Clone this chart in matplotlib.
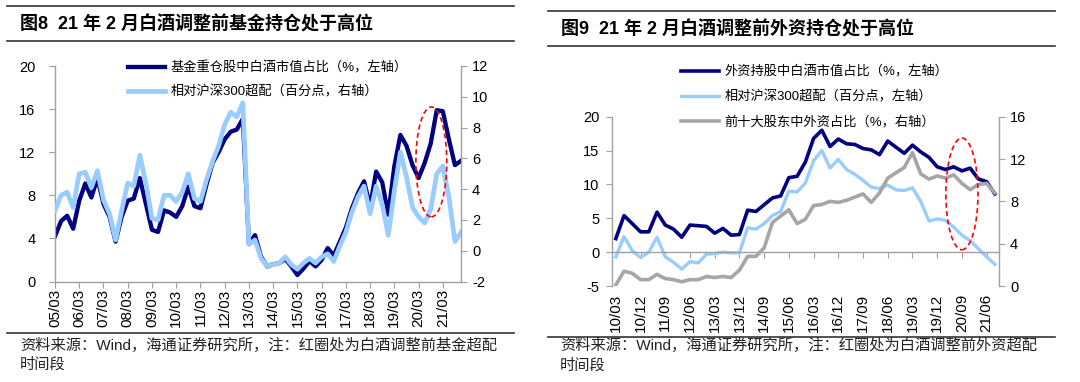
import matplotlib
matplotlib.use("Agg")
import matplotlib.pyplot as plt
from matplotlib.patches import Ellipse
from matplotlib.lines import Line2D

plt.rcParams['font.family'] = ['Liberation Sans', 'Noto Sans CJK SC']
plt.rcParams['axes.unicode_minus'] = False

# ---- 图8 数据（季度，05/03 - 21/12）----
quarters_8 = [f"{y:02d}/{m:02d}" for y in range(5, 22) for m in (3, 6, 9, 12)]
fund_liquor = [4.2, 5.6, 6.1, 4.9, 7.5, 9.1, 7.8, 9.6,
               7.2, 6.0, 3.7, 6.0, 7.5, 7.7, 9.6, 7.2,
               4.8, 4.6, 6.6, 6.4, 6.0, 7.0, 8.8, 7.0,
               6.8, 9.0, 11.0, 12.0, 13.2, 13.9, 14.1, 15.1,
               3.5, 4.3, 2.3, 1.4, 1.6, 1.7, 2.1, 1.4,
               0.6, 1.2, 1.9, 1.4, 2.0, 3.1, 2.4, 3.7,
               5.0, 6.8, 8.2, 9.3, 7.0, 10.2, 9.2, 6.2,
               10.7, 13.6, 12.6, 10.8, 9.6, 11.0, 12.8, 15.9,
               15.8, 13.2, 10.8, 11.2]
fund_overweight = [2.6, 3.6, 3.8, 2.8, 5.0, 5.1, 4.1, 5.2,
                   3.3, 2.4, 0.7, 2.6, 4.4, 4.2, 6.2, 4.4,
                   2.1, 2.0, 3.6, 3.6, 3.2, 3.8, 5.0, 3.4,
                   3.2, 4.6, 5.8, 6.8, 8.2, 9.0, 8.7, 9.6,
                   0.4, 0.7, -0.5, -1.0, -0.9, -0.8, -0.4, -0.9,
                   -1.2, -0.8, -0.5, -0.8, -0.4, -0.2, -0.7, 0.3,
                   1.2, 2.5, 3.5, 4.2, 2.4, 4.2, 3.0, 1.0,
                   3.9, 6.4, 4.8, 2.8, 2.2, 1.8, 2.7, 5.0,
                   5.5, 3.5, 0.6, 1.2]

# ---- 图9 数据（季度，10/03 - 21/09）----
quarters_9 = [f"{y:02d}/{m:02d}" for y in range(10, 22) for m in (3, 6, 9, 12)][:47]
foreign_liquor = [2.0, 5.4, 4.2, 3.0, 3.0, 5.9, 4.0, 3.4,
                  2.2, 4.0, 3.9, 3.8, 2.8, 3.5, 2.5, 2.6,
                  6.2, 6.0, 7.0, 8.0, 8.3, 11.0, 11.2, 13.3,
                  16.8, 18.0, 15.6, 16.7, 16.0, 15.9, 15.3, 15.1,
                  14.4, 16.4, 15.5, 14.6, 15.8, 14.8, 14.0, 12.6,
                  12.2, 12.6, 12.0, 12.4, 10.8, 10.4, 8.6]
foreign_overweight = [-0.7, 2.3, 0.2, -0.8, 0.0, 2.2, -0.7, -1.5,
                      -2.5, -1.4, -1.6, -0.3, -0.2, 0.0, -0.1, -0.1,
                      3.6, 3.4, 4.2, 5.4, 6.0, 9.0, 8.9, 10.2,
                      13.5, 15.0, 12.4, 13.7, 12.2, 11.5, 10.6, 9.6,
                      9.4, 9.9, 9.2, 9.1, 9.5, 7.5, 4.6, 4.9,
                      4.7, 3.7, 2.5, 1.7, 0.5, -0.7, -1.8]
top10_foreign = [0.1, 1.4, 1.2, 0.6, 0.6, 1.1, 0.7, 0.6,
                 0.4, 0.6, 0.6, 0.9, 0.8, 0.9, 0.8, 1.5,
                 2.8, 2.8, 3.6, 6.0, 6.6, 7.2, 5.9, 6.3,
                 7.6, 7.7, 8.0, 7.9, 8.1, 8.4, 8.7, 7.9,
                 8.8, 10.2, 10.7, 11.2, 12.6, 10.6, 10.1, 10.4,
                 10.2, 10.5, 9.7, 9.1, 9.6, 9.7, 8.8]

NAVY = "#000080"
LIGHT = "#99CCFF"
GRAY = "#A6A6A6"
AXC = "#A0A0A0"
W, H = 1080, 382


def fx(px):
    return px / W


def fy(py):
    return 1 - py / H


def style_axes(ax, axr):
    for s in ("top", "right"):
        ax.spines[s].set_visible(False)
    for s in ("top", "left", "bottom"):
        axr.spines[s].set_visible(False)
    for sp in (ax.spines["left"], ax.spines["bottom"], axr.spines["right"]):
        sp.set_color(AXC)
        sp.set_linewidth(1.0)
    ax.tick_params(axis="both", direction="out", length=4, color=AXC, labelsize=10.5)
    ax.tick_params(axis="x", labelsize=11)
    axr.tick_params(axis="y", direction="out", length=4, color=AXC, labelsize=10.5, pad=4)
    ax.tick_params(axis="y", pad=10)


fig = plt.figure(figsize=(10.8, 3.82), dpi=100)

# ================= 图8 =================
ax1 = fig.add_axes([fx(55), fy(281.5), fx(406), 215.5 / H])
ax1r = ax1.twinx()
x8 = list(range(len(quarters_8)))
l1, = ax1.plot(x8, fund_liquor, color=NAVY, lw=3.1, solid_joinstyle="round")
l2, = ax1r.plot(x8, fund_overweight, color=LIGHT, lw=3.4, solid_joinstyle="round")
ax1.set_xlim(0, len(x8) - 1)
ax1.set_ylim(0, 20)
ax1.set_yticks(range(0, 21, 4))
ax1r.set_ylim(-2, 12)
ax1r.set_yticks(range(-2, 13, 2))
ax1.set_xticks(x8[::4])
ax1.set_xticklabels(quarters_8[::4])
style_axes(ax1, ax1r)
ax1.tick_params(axis="x", pad=1, labelrotation=90)
ax1r.add_patch(Ellipse((62.1, 11.1), 5.1, 10.2, transform=ax1.transData, fill=False,
                       edgecolor="red", lw=1.2, linestyle=(0, (3, 2)), zorder=5))
ax1r.legend([l1, l2], ["基金重仓股中白酒市值占比（%，左轴）", "相对沪深300超配（百分点，右轴）"],
            loc="upper left", bbox_to_anchor=(fx(128), fy(61.5)), bbox_transform=fig.transFigure,
            frameon=False, fontsize=9.5, handlelength=2.8, handletextpad=0.4,
            labelspacing=0.8, borderpad=0, borderaxespad=0)

# ================= 图9 =================
ax2 = fig.add_axes([fx(611.7), fy(286), fx(387.3), 169.3 / H])
ax2r = ax2.twinx()
x9 = list(range(len(quarters_9)))
m1, = ax2.plot(x9, foreign_liquor, color=NAVY, lw=2.6, solid_joinstyle="round")
m2, = ax2.plot(x9, foreign_overweight, color=LIGHT, lw=2.4, solid_joinstyle="round")
m3, = ax2r.plot(x9, top10_foreign, color=GRAY, lw=2.6, solid_joinstyle="round")
ax2.set_xlim(-0.5, len(x9) - 0.5)
ax2.set_ylim(-5, 20)
ax2.set_yticks(range(-5, 21, 5))
ax2r.set_ylim(0, 16)
ax2r.set_yticks(range(0, 17, 4))
ax2.spines["bottom"].set_position(("data", 0))
ax2.set_xticks(x9[::3])
ax2.set_xticklabels(quarters_9[::3])
style_axes(ax2, ax2r)
ax2.tick_params(axis="x", pad=26, labelrotation=90)
ax2.tick_params(axis="y", pad=5)
ax2r.add_patch(Ellipse((42.0, 8.6), 3.9, 16.5, transform=ax2.transData, fill=False,
                       edgecolor="red", lw=1.2, linestyle=(0, (3, 2)), zorder=5))
ax2r.legend([m1, m2, m3], ["外资持股中白酒市值占比（%，左轴）", "相对沪深300超配（百分点，左轴）",
                           "前十大股东中外资占比（%，右轴）"],
            loc="upper left", bbox_to_anchor=(fx(681), fy(65.5)), bbox_transform=fig.transFigure,
            frameon=False, fontsize=9.5, handlelength=2.9, handletextpad=0.4,
            labelspacing=0.92, borderpad=0, borderaxespad=0)

# ---- 标题、分隔线、资料来源 ----
rule = dict(color="#333333", lw=1.2, transform=fig.transFigure)
for x0, x1, ys in ((7, 514, (6, 41, 332.7)), (548, 1055, (11.3, 46, 336.7))):
    for yy in ys:
        fig.add_artist(Line2D([fx(x0), fx(x1)], [fy(yy), fy(yy)], **rule))

fig.text(fx(20), fy(24), "图8  21 年 2 月白酒调整前基金持仓处于高位", fontsize=13,
         fontweight="bold", va="center", ha="left")
fig.text(fx(561), fy(29), "图9  21 年 2 月白酒调整前外资持仓处于高位", fontsize=13,
         fontweight="bold", va="center", ha="left")
fig.text(fx(20), fy(345), "资料来源：Wind，海通证券研究所，注：红圈处为白酒调整前基金超配",
         fontsize=11, va="center", ha="left", color="#222222")
fig.text(fx(20), fy(365), "时间段", fontsize=11, va="center", ha="left", color="#222222")
fig.text(fx(560), fy(345.7), "资料来源：Wind，海通证券研究所，注：红圈处为白酒调整前外资超配",
         fontsize=11, va="center", ha="left", color="#222222")
fig.text(fx(560), fy(365.7), "时间段", fontsize=11, va="center", ha="left", color="#222222")

fig.savefig("out.png", dpi=100)
